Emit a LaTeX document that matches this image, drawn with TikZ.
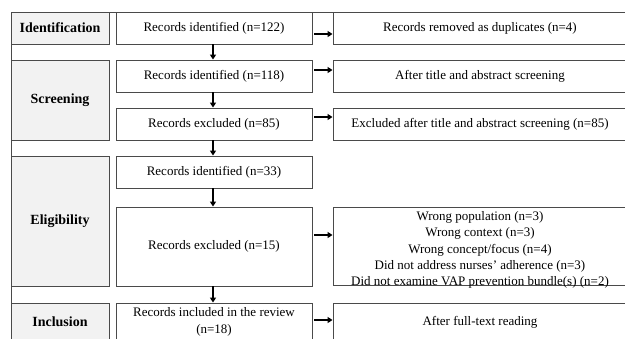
\documentclass[tikz,border=0pt]{standalone}
\usepackage{fontspec}
\setmainfont{Liberation Serif}
\usetikzlibrary{arrows.meta}
\definecolor{bordergray}{HTML}{4A4A4A}
\definecolor{stagefill}{HTML}{F2F2F2}
\begin{document}
\begin{tikzpicture}[x=1pt,y=-1pt,
  every node/.style={font=\fontsize{13}{16.3}\selectfont, inner sep=0pt, align=center},
  stagebox/.style={draw=bordergray, fill=stagefill, line width=0.9pt, minimum width=98pt,
     font=\fontsize{14}{16.3}\selectfont\bfseries},
  mainbox/.style={draw=bordergray, fill=white, line width=0.9pt, minimum width=196pt},
  sidebox/.style={draw=bordergray, fill=white, line width=0.9pt, minimum width=294pt},
  arr/.style={line width=1.8pt, -{Triangle[length=5pt,width=6pt]}}]
\useasboundingbox (0,0) rectangle (625,338);
\clip (0,0) rectangle (625,338);
% frame
\draw[bordergray, line width=0.9pt] (627,12) -- (11,12) -- (11,345);
% stages
\node[stagebox, minimum height=32pt] (s1) at (60,28) {Identification};
\node[stagebox, minimum height=80pt] (s2) at (60,100) {Screening};
\node[stagebox, minimum height=130pt] (s3) at (60,221) {Eligibility};
\node[stagebox, minimum height=38pt] (s4) at (60,322) {Inclusion};
% main column
\node[mainbox, minimum height=32pt] (m1) at (214,28) {Records identified (n=122)};
\node[mainbox, minimum height=32pt] (m2) at (214,76) {Records identified (n=118)};
\node[mainbox, minimum height=32pt] (m3) at (214,124) {Records excluded (n=85)};
\node[mainbox, minimum height=32pt] (m4) at (214,172) {Records identified (n=33)};
\node[mainbox, minimum height=79pt] (m5) at (214,246.5) {Records excluded (n=15)};
\node[mainbox, minimum height=38pt] (m6) at (214,322) {Records included in the review\\(n=18)};
% side column
\node[sidebox, minimum height=32pt] (r1) at (480,28) {Records removed as duplicates (n=4)};
\node[sidebox, minimum height=32pt] (r2) at (480,76) {After title and abstract screening};
\node[sidebox, minimum height=32pt] (r3) at (480,124) {Excluded after title and abstract screening (n=85)};
\node[sidebox, minimum height=78pt] (r5) at (480,246) {};
\node (r5t) at (480,250) {Wrong population (n=3)\\Wrong context (n=3)\\Wrong concept/focus (n=4)\\Did not address nurses' adherence (n=3)\\Did not examine VAP prevention bundle(s) (n=2)};
\node[sidebox, minimum height=38pt] (r6) at (480,322) {After full-text reading};
% down arrows
\draw[arr] ([xshift=-1pt]m1.south) -- ([xshift=-1pt]m2.north);
\draw[arr] ([xshift=-1pt]m2.south) -- ([xshift=-1pt]m3.north);
\draw[arr] ([xshift=-1pt]m3.south) -- ([xshift=-1pt]m4.north);
\draw[arr] ([xshift=-1pt]m4.south) -- ([xshift=-1pt]m5.north);
\draw[arr] ([xshift=-1pt]m5.south) -- ([xshift=-1pt]m6.north);
% side arrows
\draw[arr, shorten <=2pt] (m1.east |- 0,34) -- (r1.west |- 0,34);
\draw[arr, shorten <=2pt] (m2.east |- 0,70) -- (r2.west |- 0,70);
\draw[arr, shorten <=2pt] (m3.east |- 0,117) -- (r3.west |- 0,117);
\draw[arr, shorten <=2pt] (m5.east |- 0,235) -- (r5.west |- 0,235);
\draw[arr, shorten <=2pt] (m6.east |- 0,320) -- (r6.west |- 0,320);
\end{tikzpicture}
\end{document}
